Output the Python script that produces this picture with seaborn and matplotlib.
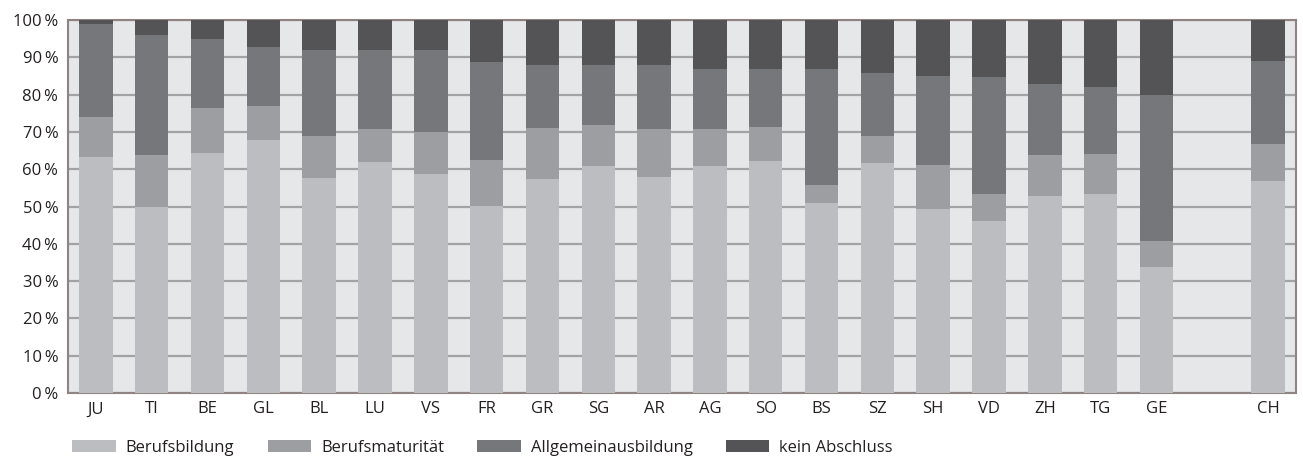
import numpy as np
import pandas as pd
import matplotlib; matplotlib.use("Agg")
import matplotlib.pyplot as plt
import seaborn as sns
from matplotlib.patches import Patch

# Anteile nach Abschlussart je Kanton (in %)
kantone = ["JU", "TI", "BE", "GL", "BL", "LU", "VS", "FR", "GR", "SG", "AR",
           "AG", "SO", "BS", "SZ", "SH", "VD", "ZH", "TG", "GE", "CH"]
berufsbildung = [63.3, 49.9, 64.3, 67.8, 57.6, 61.9, 58.7, 50.1, 57.4, 60.9, 57.9,
                 60.9, 62.2, 50.9, 61.7, 49.3, 46.2, 52.8, 53.4, 33.9, 56.8]
berufsmaturitaet = [10.7, 13.9, 12.1, 9.1, 11.3, 8.9, 11.3, 12.4, 13.6, 10.9, 12.9,
                    9.9, 9.1, 4.9, 7.2, 11.8, 7.2, 11.0, 10.7, 6.9, 10.0]
allgemein = [24.9, 32.2, 18.5, 15.9, 23.1, 21.2, 22.0, 26.2, 16.9, 16.2, 17.2,
             16.1, 15.6, 31.1, 16.9, 23.9, 31.3, 19.0, 17.9, 39.1, 22.2]
kein_abschluss = [1.1, 4.0, 5.1, 7.2, 8.0, 8.0, 8.0, 11.3, 12.1, 12.0, 12.0,
                  13.1, 13.1, 13.1, 14.2, 15.0, 15.3, 17.2, 18.0, 20.1, 11.0]
reihen = ["Berufsbildung", "Berufsmaturität", "Allgemeinausbildung", "kein Abschluss"]
farben = ["#bcbdc0", "#9d9ea1", "#76777b", "#545456"]

# Leerer Platz zwischen GE und CH
order = kantone[:-1] + [" "] + kantone[-1:]

df = pd.DataFrame({
    "kanton": kantone,
    reihen[0]: berufsbildung,
    reihen[1]: berufsmaturitaet,
    reihen[2]: allgemein,
    reihen[3]: kein_abschluss,
})
cum = df[reihen].cumsum(axis=1)

sns.set_style("white")
plt.rcParams["font.family"] = ["Open Sans", "DejaVu Sans"]
FS = 12

fig = plt.figure(figsize=(13.03, 4.57), dpi=100)
ax = fig.add_axes([0.0522, 0.140, 0.9424, 0.816])
ax.set_facecolor("#e6e7e9")

# von oben nach unten übermalen -> gestapelte Balken
for name, col in zip(reversed(reihen), reversed(farben)):
    sns.barplot(x=df["kanton"], y=cum[name], order=order, color=col,
                saturation=1, width=0.6, linewidth=0, ax=ax, zorder=3)

ax.set_ylim(0, 100)
ax.set_xlim(-0.5, len(order) - 0.5)
ax.set_yticks(range(0, 101, 10))
ax.set_yticklabels([f"{v}\u2009%" for v in range(0, 101, 10)], fontsize=FS, color="#231f20")
ax.tick_params(axis="x", length=0, pad=6, labelsize=FS, labelcolor="#231f20")
ax.tick_params(axis="y", length=4, width=1.2, color="#8f8481", pad=3)
ax.set_xlabel("")
ax.set_ylabel("")
ax.yaxis.grid(True, color="#a3a3a5", linewidth=1.6)
ax.set_axisbelow(True)
for s in ax.spines.values():
    s.set_visible(True)
    s.set_color("#8f8481")
    s.set_linewidth(1.5)

handles = [Patch(facecolor=c, edgecolor="none", label=n) for n, c in zip(reihen, farben)]
fig.legend(handles=handles, loc="lower left", bbox_to_anchor=(0.044, -0.03), ncol=4,
           frameon=False, fontsize=FS, handlelength=2.6, handleheight=0.78,
           handletextpad=0.6, columnspacing=2.0, labelcolor="#231f20")

fig.savefig("out.png", dpi=100)
